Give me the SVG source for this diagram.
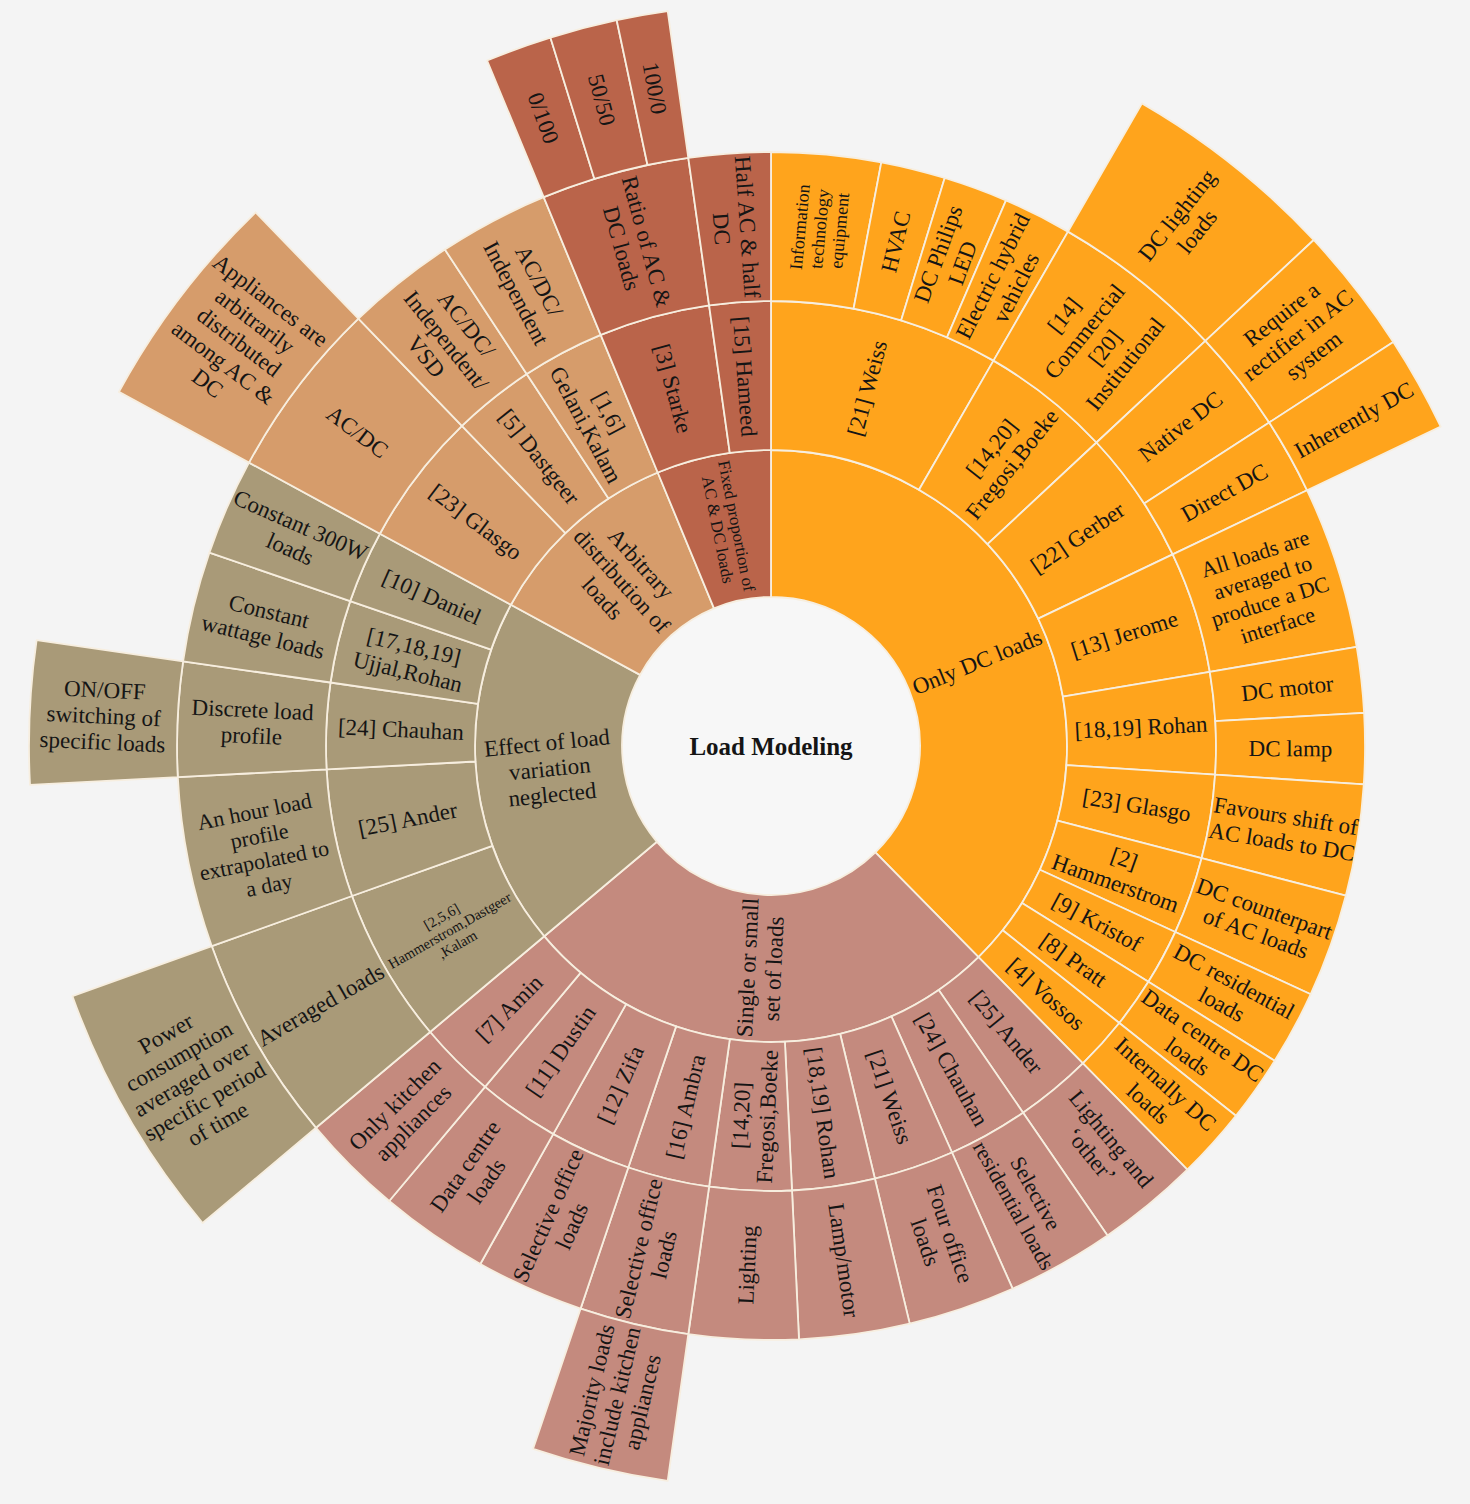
<svg xmlns="http://www.w3.org/2000/svg" width="1470" height="1504" viewBox="0 0 1470 1504">
<style>
.s{stroke:#F7EEDF;stroke-width:1.8;stroke-linejoin:round}
.o{fill:#FFA41C}.p{fill:#C48A7E}.v{fill:#A99A78}.t{fill:#D69C6B}.b{fill:#BA644A}
text{font-family:"Liberation Serif","Times New Roman",serif;fill:#151515;text-anchor:middle;font-size:23px}
.n{font-size:22px}.m{font-size:18px}.f{font-size:17px}.x{font-size:14.5px}
.h{font-weight:bold;font-size:25px}
</style>
<rect width="1470" height="1504" fill="#F4F4F4"/>
<g id="root">
<circle cx="771" cy="746" r="149" fill="#F7F7F7"/>
<text class="h" x="771" y="754.5">Load Modeling</text>
</g>
<!-- Ring 1 -->
<g id="only-dc"><path class="s o" d="M771,450 A296,296 0 0 1 978.5,957.1 L875.4,852.3 A149,149 0 0 0 771,597 Z"/><text transform="translate(977 661.8) rotate(-22.25)" y="8">Only DC loads</text></g>
<g id="single"><path class="s p" d="M978.5,957.1 A296,296 0 0 1 544.3,936.3 L656.9,841.8 A149,149 0 0 0 875.4,852.3 Z"/><text transform="translate(760.3 968.2) rotate(-87.25)"><tspan x="0" dy="-5">Single or small</tspan><tspan x="0" dy="26">set of loads</tspan></text></g>
<g id="effect"><path class="s v" d="M544.3,936.3 A296,296 0 0 1 510.9,604.8 L640.1,674.9 A149,149 0 0 0 656.9,841.8 Z"/><text transform="translate(549.6 768.3) rotate(-5.75)"><tspan x="0" dy="-18">Effect of load</tspan><tspan x="0" dy="26">variation</tspan><tspan x="0" dy="26">neglected</tspan></text></g>
<g id="arbitrary"><path class="s t" d="M510.9,604.8 A296,296 0 0 1 657.7,472.5 L714,608.3 A149,149 0 0 0 640.1,674.9 Z"/><text transform="translate(622.1 580.7) rotate(48)"><tspan x="0" dy="-18">Arbitrary</tspan><tspan x="0" dy="26">distribution of</tspan><tspan x="0" dy="26">loads</tspan></text></g>
<g id="fixed"><path class="s b" d="M657.7,472.5 A296,296 0 0 1 771,450 L771,597 A149,149 0 0 0 714,608.3 Z"/><text class="f" transform="translate(727.6 527.8) rotate(78.75)"><tspan x="0" dy="-3.5">Fixed proportion of</tspan><tspan x="0" dy="19">AC &amp; DC loads</tspan></text></g>
<!-- Ring 2 orange -->
<g id="o2-weiss"><path class="s o" d="M771,301 A445,445 0 0 1 993.5,360.6 L919,489.7 A296,296 0 0 0 771,450 Z"/><text transform="translate(866.9 388.1) rotate(-75)" y="8">[21] Weiss</text></g>
<g id="o2-fregosi"><path class="s o" d="M993.5,360.6 A445,445 0 0 1 1096.5,442.5 L987.5,544.1 A296,296 0 0 0 919,489.7 Z"/><text transform="translate(1001.6 456) rotate(-51.5)"><tspan x="0" dy="-5">[14,20]</tspan><tspan x="0" dy="26">Fregosi,Boeke</tspan></text></g>
<g id="o2-gerber"><path class="s o" d="M1096.5,442.5 A445,445 0 0 1 1172.7,554.4 L1038.2,618.6 A296,296 0 0 0 987.5,544.1 Z"/><text transform="translate(1077.3 537.5) rotate(-34.25)" y="8">[22] Gerber</text></g>
<g id="o2-jerome"><path class="s o" d="M1172.7,554.4 A445,445 0 0 1 1209.8,671.8 L1062.9,696.6 A296,296 0 0 0 1038.2,618.6 Z"/><text transform="translate(1124.3 634.3) rotate(-17.55)" y="8">[13] Jerome</text></g>
<g id="o2-rohan"><path class="s o" d="M1209.8,671.8 A445,445 0 0 1 1215.1,774.7 L1066.4,765.1 A296,296 0 0 0 1062.9,696.6 Z"/><text transform="translate(1141 726.9) rotate(-2.95)" y="8">[18,19] Rohan</text></g>
<g id="o2-glasgo"><path class="s o" d="M1215.1,774.7 A445,445 0 0 1 1201.6,858.2 L1057.4,820.6 A296,296 0 0 0 1066.4,765.1 Z"/><text transform="translate(1136.8 804.9) rotate(9.15)" y="8">[23] Glasgo</text></g>
<g id="o2-hammer"><path class="s o" d="M1201.6,858.2 A445,445 0 0 1 1175.3,932 L1039.9,869.7 A296,296 0 0 0 1057.4,820.6 Z"/><text transform="translate(1119.9 870.6) rotate(19.65)"><tspan x="0" dy="-5">[2]</tspan><tspan x="0" dy="26">Hammerstrom</tspan></text></g>
<g id="o2-kristof"><path class="s o" d="M1175.3,932 A445,445 0 0 1 1148.4,981.8 L1022,902.9 A296,296 0 0 0 1039.9,869.7 Z"/><text transform="translate(1097 922) rotate(28.35)" y="8">[9] Kristof</text></g>
<g id="o2-pratt"><path class="s o" d="M1148.4,981.8 A445,445 0 0 1 1119.3,1023 L1002.7,930.3 A296,296 0 0 0 1022,902.9 Z"/><text transform="translate(1073.6 959.8) rotate(35.25)" y="8">[8] Pratt</text></g>
<g id="o2-vossos"><path class="s o" d="M1119.3,1023 A445,445 0 0 1 1082.9,1063.4 L978.5,957.1 A296,296 0 0 0 1002.7,930.3 Z"/><text transform="translate(1046.3 993.9) rotate(42)" y="8">[4] Vossos</text></g>
<!-- Ring 2 pink -->
<g id="p2-ander"><path class="s p" d="M1082.9,1063.4 A445,445 0 0 1 1023.1,1112.7 L938.7,989.9 A296,296 0 0 0 978.5,957.1 Z"/><text transform="translate(1006.7 1031.9) rotate(50.5)" y="8">[25] Ander</text></g>
<g id="p2-chauhan"><path class="s p" d="M1023.1,1112.7 A445,445 0 0 1 952,1152.5 L891.4,1016.4 A296,296 0 0 0 938.7,989.9 Z"/><text transform="translate(952 1069.3) rotate(60.75)" y="8">[24] Chauhan</text></g>
<g id="p2-weiss"><path class="s p" d="M952,1152.5 A445,445 0 0 1 874.9,1178.7 L840.1,1033.8 A296,296 0 0 0 891.4,1016.4 Z"/><text transform="translate(890.1 1096.8) rotate(71.25)" y="8">[21] Weiss</text></g>
<g id="p2-rohan"><path class="s p" d="M874.9,1178.7 A445,445 0 0 1 792,1190.5 L784.9,1041.7 A296,296 0 0 0 840.1,1033.8 Z"/><text transform="translate(823.2 1112.8) rotate(81.9)" y="8">[18,19] Rohan</text></g>
<g id="p2-fregosi"><path class="s p" d="M792,1190.5 A445,445 0 0 1 709.1,1186.7 L729.8,1039.1 A296,296 0 0 0 784.9,1041.7 Z"/><text transform="translate(753.9 1116.1) rotate(-87.35)"><tspan x="0" dy="-5">[14,20]</tspan><tspan x="0" dy="26">Fregosi,Boeke</tspan></text></g>
<g id="p2-ambra"><path class="s p" d="M709.1,1186.7 A445,445 0 0 1 628.3,1167.5 L676.1,1026.4 A296,296 0 0 0 729.8,1039.1 Z"/><text transform="translate(685.4 1106.5) rotate(-76.65)" y="8">[16] Ambra</text></g>
<g id="p2-zifa"><path class="s p" d="M628.3,1167.5 A445,445 0 0 1 553.2,1134.1 L626.1,1004.1 A296,296 0 0 0 676.1,1026.4 Z"/><text transform="translate(620.3 1084.5) rotate(-66)" y="8">[12] Zifa</text></g>
<g id="p2-dustin"><path class="s p" d="M553.2,1134.1 A445,445 0 0 1 485,1086.9 L580.7,972.7 A296,296 0 0 0 626.1,1004.1 Z"/><text transform="translate(560.4 1050.8) rotate(-55.35)" y="8">[11] Dustin</text></g>
<g id="p2-amin"><path class="s p" d="M485,1086.9 A445,445 0 0 1 430.1,1032 L544.3,936.3 A296,296 0 0 0 580.7,972.7 Z"/><text transform="translate(509 1008) rotate(-45)" y="8">[7] Amin</text></g>
<!-- Ring 2 olive -->
<g id="v2-hds"><path class="s v" d="M430.1,1032 A445,445 0 0 1 352,896 L492.3,845.8 A296,296 0 0 0 544.3,936.3 Z"/><text class="x" transform="translate(449.6 930.4) rotate(-29.85)"><tspan x="0" dy="-11">[2,5,6]</tspan><tspan x="0" dy="16">Hammerstrom,Dastgeer</tspan><tspan x="0" dy="16">,Kalam</tspan></text></g>
<g id="v2-ander"><path class="s v" d="M352,896 A445,445 0 0 1 326.6,769.3 L475.4,761.5 A296,296 0 0 0 492.3,845.8 Z"/><text transform="translate(407.7 818.9) rotate(-11.35)" y="8">[25] Ander</text></g>
<g id="v2-chauhan"><path class="s v" d="M326.6,769.3 A445,445 0 0 1 330.5,682.5 L478,703.8 A296,296 0 0 0 475.4,761.5 Z"/><text transform="translate(400.9 729.2) rotate(2.6)" y="8">[24] Chauhan</text></g>
<g id="v2-ujjal"><path class="s v" d="M330.5,682.5 A445,445 0 0 1 350.2,601.1 L491.1,649.6 A296,296 0 0 0 478,703.8 Z"/><text transform="translate(410.9 658.9) rotate(13.6)"><tspan x="0" dy="-5">[17,18,19]</tspan><tspan x="0" dy="26">Ujjal,Rohan</tspan></text></g>
<g id="v2-daniel"><path class="s v" d="M350.2,601.1 A445,445 0 0 1 379.9,533.7 L510.9,604.8 A296,296 0 0 0 491.1,649.6 Z"/><text transform="translate(431.9 596.8) rotate(23.75)" y="8">[10] Daniel</text></g>
<!-- Ring 2 tan -->
<g id="t2-glasgo"><path class="s t" d="M379.9,533.7 A445,445 0 0 1 461.9,425.9 L565.4,533.1 A296,296 0 0 0 510.9,604.8 Z"/><text transform="translate(476.1 521.7) rotate(37.25)" y="8">[23] Glasgo</text></g>
<g id="t2-dastgeer"><path class="s t" d="M461.9,425.9 A445,445 0 0 1 526.7,374.1 L608.5,498.6 A296,296 0 0 0 565.4,533.1 Z"/><text transform="translate(539.5 456.7) rotate(51.35)" y="8">[5] Dastgeer</text></g>
<g id="t2-gelani"><path class="s t" d="M526.7,374.1 A445,445 0 0 1 600.7,334.9 L657.7,472.5 A296,296 0 0 0 608.5,498.6 Z"/><text transform="translate(597.6 418.6) rotate(62.1)"><tspan x="0" dy="-5">[1,6]</tspan><tspan x="0" dy="26">Gelani,Kalam</tspan></text></g>
<!-- Ring 2 brown -->
<g id="b2-starke"><path class="s b" d="M600.7,334.9 A445,445 0 0 1 709.1,305.3 L729.8,452.9 A296,296 0 0 0 657.7,472.5 Z"/><text transform="translate(673.5 388.5) rotate(74.75)" y="8">[3] Starke</text></g>
<g id="b2-hameed"><path class="s b" d="M709.1,305.3 A445,445 0 0 1 771,301 L771,450 A296,296 0 0 0 729.8,452.9 Z"/><text transform="translate(745.2 376.4) rotate(86)" y="8">[15] Hameed</text></g>
<!-- Ring 3 orange -->
<g id="o3-it"><path class="s o" d="M771,152 A594,594 0 0 1 881.3,162.3 L853.6,308.7 A445,445 0 0 0 771,301 Z"/><text class="m" transform="translate(819.4 228.8) rotate(-84.65)"><tspan x="0" dy="-13.7">Information</tspan><tspan x="0" dy="20">technology</tspan><tspan x="0" dy="20">equipment</tspan></text></g>
<g id="o3-hvac"><path class="s o" d="M881.3,162.3 A594,594 0 0 1 944.7,178 L901.1,320.4 A445,445 0 0 0 853.6,308.7 Z"/><text transform="translate(895.4 241.6) rotate(-76.15)" y="8">HVAC</text></g>
<g id="o3-philips"><path class="s o" d="M944.7,178 A594,594 0 0 1 1006,200.4 L947,337.3 A445,445 0 0 0 901.1,320.4 Z"/><text transform="translate(950 258.3) rotate(-69.85)"><tspan x="0" dy="-5">DC Philips</tspan><tspan x="0" dy="26">LED</tspan></text></g>
<g id="o3-ehv"><path class="s o" d="M1006,200.4 A594,594 0 0 1 1068,231.6 L993.5,360.6 A445,445 0 0 0 947,337.3 Z"/><text transform="translate(1004 281.7) rotate(-63.35)"><tspan x="0" dy="-5">Electric hybrid</tspan><tspan x="0" dy="26">vehicles</tspan></text></g>
<g id="o3-commercial"><path class="s o" d="M1068,231.6 A594,594 0 0 1 1205.4,340.9 L1096.5,442.5 A445,445 0 0 0 993.5,360.6 Z"/><text transform="translate(1094.4 339.4) rotate(-51.5)"><tspan x="0" dy="-31">[14]</tspan><tspan x="0" dy="26">Commercial</tspan><tspan x="0" dy="26">[20]</tspan><tspan x="0" dy="26">Institutional</tspan></text></g>
<g id="o3-native"><path class="s o" d="M1205.4,340.9 A594,594 0 0 1 1269.2,422.5 L1144.2,503.6 A445,445 0 0 0 1096.5,442.5 Z"/><text transform="translate(1180.4 426.2) rotate(-38)" y="8">Native DC</text></g>
<g id="o3-direct"><path class="s o" d="M1269.2,422.5 A594,594 0 0 1 1307.1,490.3 L1172.7,554.4 A445,445 0 0 0 1144.2,503.6 Z"/><text transform="translate(1224.3 492.2) rotate(-29.25)" y="8">Direct DC</text></g>
<g id="o3-allloads"><path class="s o" d="M1307.1,490.3 A594,594 0 0 1 1356.7,646.9 L1209.8,671.8 A445,445 0 0 0 1172.7,554.4 Z"/><text class="n" transform="translate(1266.3 589.4) rotate(-17.55)"><tspan x="0" dy="-30">All loads are</tspan><tspan x="0" dy="25">averaged to</tspan><tspan x="0" dy="25">produce a DC</tspan><tspan x="0" dy="25">interface</tspan></text></g>
<g id="o3-motor"><path class="s o" d="M1356.7,646.9 A594,594 0 0 1 1364.1,712.8 L1215.3,721.2 A445,445 0 0 0 1209.8,671.8 Z"/><text transform="translate(1287.3 688.1) rotate(-6.4)" y="8">DC motor</text></g>
<g id="o3-lamp"><path class="s o" d="M1364.1,712.8 A594,594 0 0 1 1363.8,784.3 L1215.1,774.7 A445,445 0 0 0 1215.3,721.2 Z"/><text transform="translate(1290.5 748.3) rotate(0.25)" y="8">DC lamp</text></g>
<g id="o3-favours"><path class="s o" d="M1363.8,784.3 A594,594 0 0 1 1345.8,895.7 L1201.6,858.2 A445,445 0 0 0 1215.1,774.7 Z"/><text transform="translate(1283.9 828.6) rotate(9.15)"><tspan x="0" dy="-5">Favours shift of</tspan><tspan x="0" dy="26">AC loads to DC</tspan></text></g>
<g id="o3-counterpart"><path class="s o" d="M1345.8,895.7 A594,594 0 0 1 1310.7,994.2 L1175.3,932 A445,445 0 0 0 1201.6,858.2 Z"/><text transform="translate(1260.2 920.7) rotate(19.65)"><tspan x="0" dy="-5">DC counterpart</tspan><tspan x="0" dy="26">of AC loads</tspan></text></g>
<g id="o3-residential"><path class="s o" d="M1310.7,994.2 A594,594 0 0 1 1274.7,1060.8 L1148.4,981.8 A445,445 0 0 0 1175.3,932 Z"/><text transform="translate(1228.1 992.7) rotate(28.35)"><tspan x="0" dy="-5">DC residential</tspan><tspan x="0" dy="26">loads</tspan></text></g>
<g id="o3-datacentre"><path class="s o" d="M1274.7,1060.8 A594,594 0 0 1 1235.9,1115.8 L1119.3,1023 A445,445 0 0 0 1148.4,981.8 Z"/><text transform="translate(1195.2 1045.8) rotate(35.25)"><tspan x="0" dy="-5">Data centre DC</tspan><tspan x="0" dy="26">loads</tspan></text></g>
<g id="o3-internally"><path class="s o" d="M1235.9,1115.8 A594,594 0 0 1 1187.3,1169.7 L1082.9,1063.4 A445,445 0 0 0 1119.3,1023 Z"/><text transform="translate(1157.1 1093.6) rotate(42)"><tspan x="0" dy="-5">Internally DC</tspan><tspan x="0" dy="26">loads</tspan></text></g>
<!-- Ring 3 pink -->
<g id="p3-lighting-other"><path class="s p" d="M1187.3,1169.7 A594,594 0 0 1 1107.5,1235.5 L1023.1,1112.7 A445,445 0 0 0 1082.9,1063.4 Z"/><text transform="translate(1101.4 1146.9) rotate(50.5)"><tspan x="0" dy="-5">Lighting and</tspan><tspan x="0" dy="26">‘other’</tspan></text></g>
<g id="p3-sel-res"><path class="s p" d="M1107.5,1235.5 A594,594 0 0 1 1012.6,1288.7 L952,1152.5 A445,445 0 0 0 1023.1,1112.7 Z"/><text class="n" transform="translate(1024.8 1199.3) rotate(60.75)"><tspan x="0" dy="-5">Selective</tspan><tspan x="0" dy="25">residential loads</tspan></text></g>
<g id="p3-four-office"><path class="s p" d="M1012.6,1288.7 A594,594 0 0 1 909.7,1323.6 L874.9,1178.7 A445,445 0 0 0 952,1152.5 Z"/><text transform="translate(938 1237.9) rotate(71.25)"><tspan x="0" dy="-5">Four office</tspan><tspan x="0" dy="26">loads</tspan></text></g>
<g id="p3-lampmotor"><path class="s p" d="M909.7,1323.6 A594,594 0 0 1 799,1339.3 L792,1190.5 A445,445 0 0 0 874.9,1178.7 Z"/><text transform="translate(844.2 1260.3) rotate(81.9)" y="8">Lamp/motor</text></g>
<g id="p3-lighting"><path class="s p" d="M799,1339.3 A594,594 0 0 1 688.3,1334.2 L709.1,1186.7 A445,445 0 0 0 792,1190.5 Z"/><text transform="translate(747 1264.9) rotate(-87.35)" y="8">Lighting</text></g>
<g id="p3-sel-office-1"><path class="s p" d="M688.3,1334.2 A594,594 0 0 1 580.6,1308.6 L628.3,1167.5 A445,445 0 0 0 709.1,1186.7 Z"/><text transform="translate(651 1251.5) rotate(-76.65)"><tspan x="0" dy="-5">Selective office</tspan><tspan x="0" dy="26">loads</tspan></text></g>
<g id="p3-sel-office-2"><path class="s p" d="M580.6,1308.6 A594,594 0 0 1 480.3,1264 L553.2,1134.1 A445,445 0 0 0 628.3,1167.5 Z"/><text transform="translate(559.7 1220.6) rotate(-66)"><tspan x="0" dy="-5">Selective office</tspan><tspan x="0" dy="26">loads</tspan></text></g>
<g id="p3-datacentre"><path class="s p" d="M480.3,1264 A594,594 0 0 1 389.2,1201 L485,1086.9 A445,445 0 0 0 553.2,1134.1 Z"/><text transform="translate(475.6 1173.4) rotate(-55.35)"><tspan x="0" dy="-5">Data centre</tspan><tspan x="0" dy="26">loads</tspan></text></g>
<g id="p3-kitchen"><path class="s p" d="M389.2,1201 A594,594 0 0 1 316,1127.8 L430.1,1032 A445,445 0 0 0 485,1086.9 Z"/><text transform="translate(403.7 1113.3) rotate(-45)"><tspan x="0" dy="-5">Only kitchen</tspan><tspan x="0" dy="26">appliances</tspan></text></g>
<!-- Ring 3 olive -->
<g id="v3-averaged"><path class="s v" d="M316,1127.8 A594,594 0 0 1 211.8,946.2 L352,896 A445,445 0 0 0 430.1,1032 Z"/><text transform="translate(320.4 1004.6) rotate(-29.85)" y="8">Averaged loads</text></g>
<g id="v3-hour"><path class="s v" d="M211.8,946.2 A594,594 0 0 1 177.8,777.1 L326.6,769.3 A445,445 0 0 0 352,896 Z"/><text class="n" transform="translate(261.7 848.2) rotate(-11.35)"><tspan x="0" dy="-30">An hour load</tspan><tspan x="0" dy="25">profile</tspan><tspan x="0" dy="25">extrapolated to</tspan><tspan x="0" dy="25">a day</tspan></text></g>
<g id="v3-discrete"><path class="s v" d="M177.8,777.1 A594,594 0 0 1 183.1,661.3 L330.5,682.5 A445,445 0 0 0 326.6,769.3 Z"/><text transform="translate(252 722.4) rotate(2.6)"><tspan x="0" dy="-5">Discrete load</tspan><tspan x="0" dy="26">profile</tspan></text></g>
<g id="v3-wattage"><path class="s v" d="M183.1,661.3 A594,594 0 0 1 209.4,552.6 L350.2,601.1 A445,445 0 0 0 330.5,682.5 Z"/><text transform="translate(266.1 623.8) rotate(13.6)"><tspan x="0" dy="-5">Constant</tspan><tspan x="0" dy="26">wattage loads</tspan></text></g>
<g id="v3-300w"><path class="s v" d="M209.4,552.6 A594,594 0 0 1 249,462.6 L379.9,533.7 A445,445 0 0 0 350.2,601.1 Z"/><text transform="translate(295.5 536.8) rotate(23.75)"><tspan x="0" dy="-5">Constant 300W</tspan><tspan x="0" dy="26">loads</tspan></text></g>
<!-- Ring 3 tan -->
<g id="t3-acdc"><path class="s t" d="M249,462.6 A594,594 0 0 1 358.4,318.7 L461.9,425.9 A445,445 0 0 0 379.9,533.7 Z"/><text transform="translate(357.5 431.6) rotate(37.25)" y="8">AC/DC</text></g>
<g id="t3-vsd"><path class="s t" d="M358.4,318.7 A594,594 0 0 1 444.9,249.5 L526.7,374.1 A445,445 0 0 0 461.9,425.9 Z"/><text transform="translate(446.5 340.3) rotate(51.35)"><tspan x="0" dy="-18">AC/DC/</tspan><tspan x="0" dy="26">Independent/</tspan><tspan x="0" dy="26">VSD</tspan></text></g>
<g id="t3-indep"><path class="s t" d="M444.9,249.5 A594,594 0 0 1 543.7,197.2 L600.7,334.9 A445,445 0 0 0 526.7,374.1 Z"/><text transform="translate(527.9 286.9) rotate(62.1)"><tspan x="0" dy="-5">AC/DC/</tspan><tspan x="0" dy="26">Independent</tspan></text></g>
<!-- Ring 3 brown -->
<g id="b3-ratio"><path class="s b" d="M543.7,197.2 A594,594 0 0 1 688.3,157.8 L709.1,305.3 A445,445 0 0 0 600.7,334.9 Z"/><text transform="translate(634.4 244.8) rotate(74.75)"><tspan x="0" dy="-5">Ratio of AC &amp;</tspan><tspan x="0" dy="26">DC loads</tspan></text></g>
<g id="b3-half"><path class="s b" d="M688.3,157.8 A594,594 0 0 1 771,152 L771,301 A445,445 0 0 0 709.1,305.3 Z"/><text transform="translate(734.8 227.8) rotate(86)"><tspan x="0" dy="-5">Half AC &amp; half</tspan><tspan x="0" dy="26">DC</tspan></text></g>
<!-- Ring 4 -->
<g id="b4-0-100"><path class="s b" d="M487.1,60.5 A742,742 0 0 1 550.4,37.6 L594.4,178.9 A594,594 0 0 0 543.7,197.2 Z"/><text transform="translate(543.6 117.9) rotate(70.1)" y="8">0/100</text></g>
<g id="b4-50-50"><path class="s b" d="M550.4,37.6 A742,742 0 0 1 616.7,20.2 L647.5,165 A594,594 0 0 0 594.4,178.9 Z"/><text transform="translate(602.1 99.7) rotate(75.35)" y="8">50/50</text></g>
<g id="b4-100-0"><path class="s b" d="M616.7,20.2 A742,742 0 0 1 667.7,11.2 L688.3,157.8 A594,594 0 0 0 647.5,165 Z"/><text transform="translate(655 88.1) rotate(80)" y="8">100/0</text></g>
<g id="t4-appliances"><path class="s t" d="M118.9,391.9 A742,742 0 0 1 255.6,212.3 L358.4,318.7 A594,594 0 0 0 249,462.6 Z"/><text transform="translate(239.3 341.7) rotate(37.25)"><tspan x="0" dy="-44">Appliances are</tspan><tspan x="0" dy="26">arbitrarily</tspan><tspan x="0" dy="26">distributed</tspan><tspan x="0" dy="26">among AC &amp;</tspan><tspan x="0" dy="26">DC</tspan></text></g>
<g id="v4-onoff"><path class="s v" d="M30,784.8 A742,742 0 0 1 36.6,640.2 L183.1,661.3 A594,594 0 0 0 177.8,777.1 Z"/><text transform="translate(103.7 715.7) rotate(2.6)"><tspan x="0" dy="-18">ON/OFF</tspan><tspan x="0" dy="26">switching of</tspan><tspan x="0" dy="26">specific loads</tspan></text></g>
<g id="v4-power"><path class="s v" d="M202.6,1223 A742,742 0 0 1 72.4,996.1 L211.8,946.2 A594,594 0 0 0 316,1127.8 Z"/><text transform="translate(191.6 1078.5) rotate(-29.85)"><tspan x="0" dy="-44">Power</tspan><tspan x="0" dy="26">consumption</tspan><tspan x="0" dy="26">averaged over</tspan><tspan x="0" dy="26">specific period</tspan><tspan x="0" dy="26">of time</tspan></text></g>
<g id="p4-majority"><path class="s p" d="M667.7,1480.8 A742,742 0 0 1 533.1,1448.8 L580.6,1308.6 A594,594 0 0 0 688.3,1334.2 Z"/><text transform="translate(616.7 1395.9) rotate(-76.65)"><tspan x="0" dy="-18">Majority loads</tspan><tspan x="0" dy="26">include kitchen</tspan><tspan x="0" dy="26">appliances</tspan></text></g>
<g id="o4-lighting"><path class="s o" d="M1142,103.4 A742,742 0 0 1 1313.7,240 L1205.4,340.9 A594,594 0 0 0 1068,231.6 Z"/><text transform="translate(1186.8 223.2) rotate(-51.5)"><tspan x="0" dy="-5">DC lighting</tspan><tspan x="0" dy="26">loads</tspan></text></g>
<g id="o4-rectifier"><path class="s o" d="M1313.7,240 A742,742 0 0 1 1393.3,341.9 L1269.2,422.5 A594,594 0 0 0 1205.4,340.9 Z"/><text transform="translate(1297.4 334.7) rotate(-38)"><tspan x="0" dy="-18">Require a</tspan><tspan x="0" dy="26">rectifier in AC</tspan><tspan x="0" dy="26">system</tspan></text></g>
<g id="o4-inherently"><path class="s o" d="M1393.3,341.9 A742,742 0 0 1 1440.7,426.6 L1307.1,490.3 A594,594 0 0 0 1269.2,422.5 Z"/><text transform="translate(1353.8 419.6) rotate(-29.25)" y="8">Inherently DC</text></g>
</svg>
